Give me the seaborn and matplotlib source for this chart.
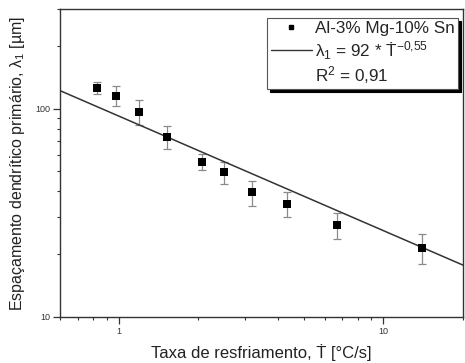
import numpy as np
import pandas as pd
import matplotlib
matplotlib.use("Agg")
import matplotlib.pyplot as plt
from matplotlib.lines import Line2D
from matplotlib.ticker import LogLocator, NullFormatter, FixedLocator, FixedFormatter
import seaborn as sns

# ---- data ----
cooling_rate = [0.83, 0.98, 1.19, 1.52, 2.06, 2.50, 3.18, 4.33, 6.67, 13.95]
spacing = [126, 115, 96, 73, 55.6, 49.6, 39.6, 34.7, 27.5, 21.5]
err_low = [8, 12, 13, 9, 5, 6.4, 5.4, 4.7, 3.8, 3.5]
err_high = [8, 13, 13.6, 9.8, 5.2, 5.9, 5.4, 4.9, 4.0, 3.5]
fit_coef = 92
fit_exp = -0.55
x_ticks = [1, 10]
x_ticklabels = ["1", "10"]
y_ticks = [10, 100]
y_ticklabels = ["10", "100"]
series_label = "Al-3% Mg-10% Sn"
fit_label = "λ$_1$ = 92 * Ṫ$^{-0{,}55}$"
r2_label = "R$^2$ = 0,91"

sns.set_theme(style="white")
plt.rcParams["font.family"] = ["Liberation Sans", "DejaVu Sans"]
plt.rcParams["mathtext.fontset"] = "custom"
plt.rcParams["mathtext.rm"] = "Liberation Sans"
plt.rcParams["mathtext.it"] = "Liberation Sans:italic"
plt.rcParams["mathtext.bf"] = "Liberation Sans:bold"

df = pd.DataFrame({"x": cooling_rate, "y": spacing})
xfit = np.geomspace(0.6, 20, 200)
dfit = pd.DataFrame({"x": xfit, "y": fit_coef * xfit ** fit_exp})

fig = plt.figure(figsize=(4.65, 3.63), dpi=100)
ax = fig.add_axes([0.129, 0.127, 0.867, 0.848])
ax.set_xscale("log")
ax.set_yscale("log")

ax.errorbar(cooling_rate, spacing, yerr=[err_low, err_high], fmt="none",
            ecolor="#8a8a8a", elinewidth=0.9, capsize=2.8, capthick=0.9, zorder=2)
sns.lineplot(data=dfit, x="x", y="y", ax=ax, color="#333333", linewidth=1.1,
             zorder=3, legend=False)
sns.scatterplot(data=df, x="x", y="y", ax=ax, marker="s", s=26, color="black",
                edgecolor="black", linewidth=0, zorder=4, legend=False)

ax.set_xlim(0.6, 20)
ax.set_ylim(10, 300)

ax.xaxis.set_major_locator(FixedLocator(x_ticks))
ax.xaxis.set_major_formatter(FixedFormatter(x_ticklabels))
ax.yaxis.set_major_locator(FixedLocator(y_ticks))
ax.yaxis.set_major_formatter(FixedFormatter(y_ticklabels))
ax.xaxis.set_minor_locator(LogLocator(base=10, subs=np.arange(2, 10)))
ax.yaxis.set_minor_locator(LogLocator(base=10, subs=np.arange(2, 10)))
ax.xaxis.set_minor_formatter(NullFormatter())
ax.yaxis.set_minor_formatter(NullFormatter())
ax.tick_params(which="major", direction="out", length=5, width=0.9,
               labelsize=6.5, colors="#333333", bottom=True, left=True, pad=2)
ax.tick_params(which="minor", direction="out", length=2.5, width=0.8,
               colors="#333333", bottom=True, left=True)

for s in ax.spines.values():
    s.set_color("#333333")
    s.set_linewidth(1.0)

ax.set_xlabel("Taxa de resfriamento, Ṫ [°C/s]", fontsize=12, color="#222222", labelpad=6)
ax.set_ylabel("Espaçamento dendrítico primário, λ$_1$ [µm]", fontsize=11.5,
              color="#222222", labelpad=6)

handles = [
    Line2D([], [], marker="s", linestyle="none", color="black", markersize=3.5),
    Line2D([], [], color="#333333", linewidth=1.0),
    Line2D([], [], linestyle="none"),
]
leg = ax.legend(handles, [series_label, fit_label, r2_label], loc="upper right",
                bbox_to_anchor=(0.988, 0.971), borderaxespad=0, fontsize=12.3,
                frameon=True, fancybox=False,
                shadow={"color": "black", "alpha": 1, "ox": 2, "oy": -2},
                handlelength=2.4, handletextpad=0.2, labelspacing=0.15,
                borderpad=0.2)
leg.get_frame().set_edgecolor("#555555")
leg.get_frame().set_linewidth(0.8)

fig.savefig("out.png", dpi=100)
